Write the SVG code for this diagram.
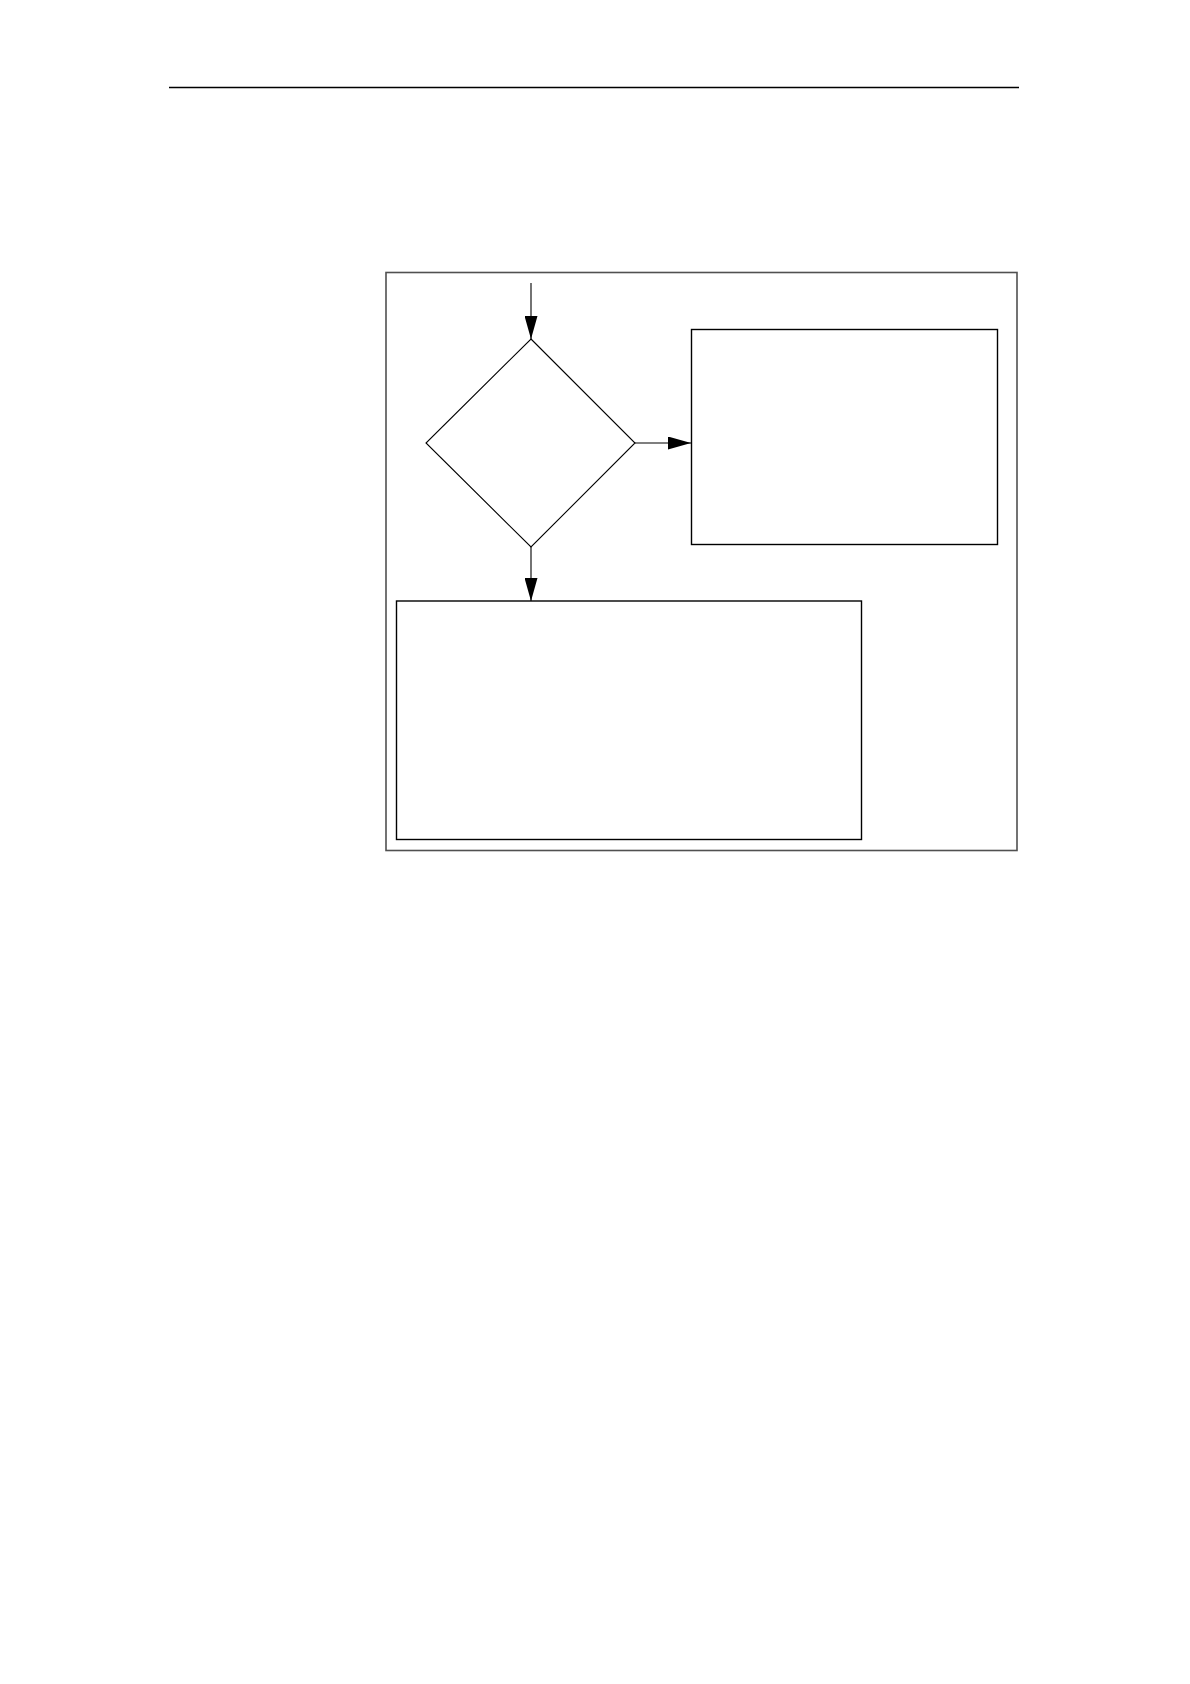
<svg xmlns="http://www.w3.org/2000/svg" width="1190" height="1684" viewBox="0 0 1190 1684">
<style>
.shape{fill:none;stroke:#000;stroke-width:1.1}
.box{fill:#fff;stroke:#000;stroke-width:1.4}
.frame{fill:none;stroke:#505050;stroke-width:1.6}
.conn{fill:none;stroke:#000;stroke-width:1.1}
</style>
<defs>
<marker id="ah" markerWidth="23" markerHeight="13" refX="23" refY="6.5" orient="auto" markerUnits="userSpaceOnUse">
<path d="M0,0 L23,6.5 L0,13 Z" fill="#000"/>
</marker>
</defs>
<rect width="1190" height="1684" fill="#fff"/>
<line x1="169" y1="87.5" x2="1019" y2="87.5" stroke="#000" stroke-width="1.4"/>
<g id="frame"><rect class="frame" x="386" y="272.5" width="631" height="578"/></g>
<g id="decision"><polygon class="shape" points="531,339 635,443 531,547 426,443"/></g>
<g id="box-right"><rect class="box" x="691.5" y="329.5" width="306" height="215"/></g>
<g id="box-bottom"><rect class="box" x="396.5" y="601" width="465" height="238.5"/></g>
<g id="connectors">
<line class="conn" x1="531" y1="283" x2="531" y2="339" marker-end="url(#ah)"/>
<line class="conn" x1="635" y1="443" x2="691" y2="443" marker-end="url(#ah)"/>
<line class="conn" x1="531" y1="547" x2="531" y2="601" marker-end="url(#ah)"/>
</g>
</svg>
